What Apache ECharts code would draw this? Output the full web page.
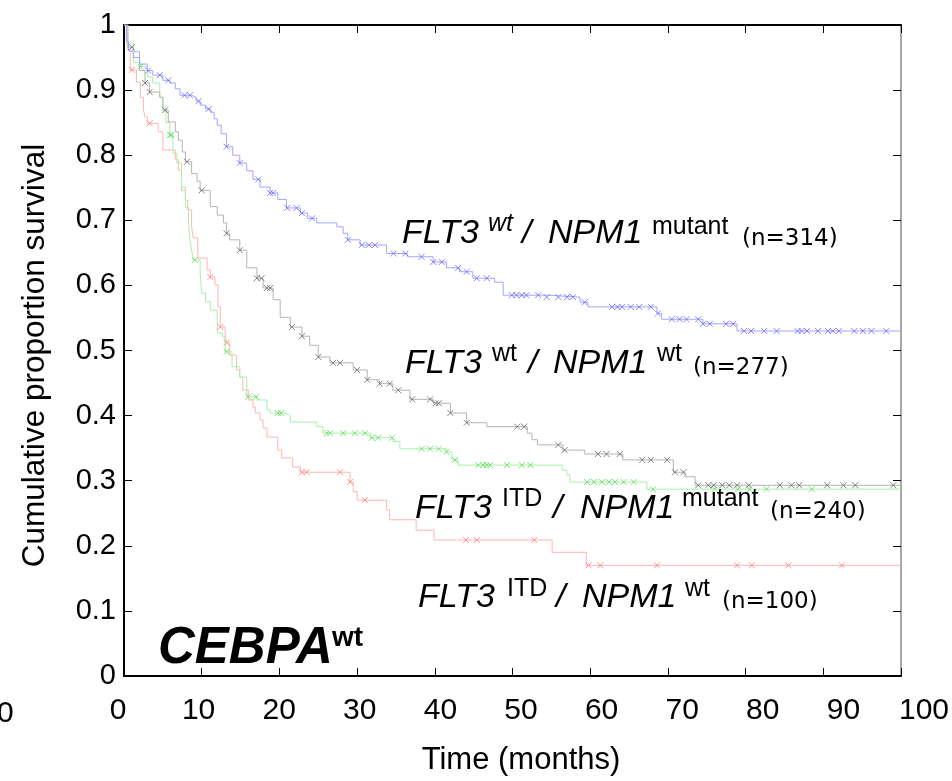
<!DOCTYPE html>
<html><head><meta charset="utf-8">
<script src="https://cdn.jsdelivr.net/npm/echarts@6/dist/echarts.min.js"></script>
<style>html,body{margin:0;padding:0;background:#fff}#c{width:952px;height:781px}</style>
</head><body><div id="c"></div>
<script>
// ---- data (time in months, cumulative proportion surviving after each step) ----
var xTicks = [0,10,20,30,40,50,60,70,80,90,100];
var yTicks = [0,0.1,0.2,0.3,0.4,0.5,0.6,0.7,0.8,0.9,1];

var blueSteps = [[0,1],[0.3,0.975],[0.6,0.96],[1.2,0.95],[2.0,0.94],[3.0,0.93],[3.7,0.923],[5.0,0.915],[5.9,0.911],[6.6,0.902],[7.2,0.892],[8.7,0.889],[9.3,0.883],[9.8,0.877],[10.5,0.871],[11.1,0.866],[11.6,0.856],[12.0,0.846],[12.5,0.833],[13.2,0.813],[14.0,0.80],[14.9,0.788],[15.8,0.776],[16.6,0.763],[17.5,0.751],[18.8,0.742],[19.8,0.732],[20.9,0.719],[22.7,0.711],[23.6,0.703],[24.8,0.696],[27.4,0.690],[28.2,0.680],[28.8,0.670],[30.4,0.662],[33.8,0.649],[36.5,0.644],[39.8,0.636],[41.5,0.627],[43.2,0.621],[44.9,0.611],[47.7,0.605],[48.8,0.585],[54.4,0.582],[58.7,0.574],[59.7,0.567],[68.6,0.557],[69.2,0.548],[74.5,0.541],[78.9,0.530],[100,0.530]];
var blueCens = [3.1,4.6,5.7,7.8,8.5,9.6,10.9,13.2,14.9,17.3,18.8,19.2,21,22.2,22.9,24.2,28.8,30.6,31.5,32.3,34.7,36.2,38.3,39.8,40.9,43,44.1,45.4,46.7,49.9,50.5,51.2,51.8,53.3,54.4,55.9,57,57.8,59.3,62.8,63.5,64.1,65.2,66.3,67.8,68.7,70.5,71.5,72.4,73.9,74.5,75.4,77.5,78.4,79.8,80.7,82.4,84,86.7,87.2,87.9,89.3,90.6,91.2,92,94,95.1,96.2,98.1];

var graySteps = [[0,1],[0.5,0.966],[1.2,0.959],[2.0,0.93],[2.7,0.911],[3.3,0.897],[4.6,0.889],[5.0,0.869],[5.7,0.851],[6.6,0.836],[7.0,0.823],[7.5,0.805],[7.9,0.790],[8.7,0.772],[9.4,0.76],[9.8,0.746],[11.1,0.721],[12.0,0.708],[12.8,0.696],[13.2,0.680],[13.6,0.670],[14.9,0.654],[15.8,0.627],[17.1,0.611],[17.9,0.596],[19.2,0.578],[20.1,0.551],[21.4,0.536],[22.9,0.522],[23.9,0.508],[25.0,0.490],[26.5,0.481],[29.5,0.470],[31.3,0.455],[32.9,0.449],[34.6,0.439],[36.8,0.425],[39.8,0.419],[42.0,0.404],[44.1,0.389],[46.7,0.383],[51.9,0.373],[52.5,0.363],[53.2,0.355],[56.5,0.347],[59.3,0.341],[64.2,0.332],[70.7,0.313],[72.2,0.306],[73.5,0.293],[100,0.293]];
var grayCens = [1,2.7,3.3,5.3,8.1,10,13.2,14.9,17.1,17.7,18.4,18.8,21.6,22.9,25,26.9,27.8,30,31.3,32.9,34.2,35.3,37.1,39.4,40.1,40.5,42,44.1,50.6,51.5,55.9,56.7,61,62.1,63.8,66.7,67.8,69.9,70.9,72,73.9,75.2,75.9,77,77.9,78.9,80.4,84.4,85.9,86.9,90.5,92.6,94.1,99];

var greenSteps = [[0,1],[0.5,0.972],[1.2,0.943],[2.1,0.936],[3.0,0.92],[3.7,0.911],[4.6,0.889],[5.0,0.874],[5.4,0.85],[5.9,0.831],[6.3,0.803],[6.8,0.788],[7.4,0.751],[7.9,0.72],[8.3,0.696],[8.5,0.67],[8.7,0.655],[8.9,0.639],[9.8,0.619],[10.0,0.588],[10.5,0.575],[11.1,0.562],[12.0,0.527],[12.7,0.521],[13.0,0.498],[13.9,0.475],[14.9,0.459],[15.8,0.429],[17.1,0.424],[18.4,0.409],[18.8,0.404],[20.7,0.401],[21.4,0.390],[24.8,0.383],[25.6,0.373],[31.7,0.366],[34.6,0.36],[35.5,0.349],[41.5,0.344],[42.2,0.332],[43.0,0.324],[56.4,0.316],[57.0,0.309],[57.4,0.298],[67.3,0.287],[100,0.287]];
var greenCens = [2.1,5.9,6.1,9.1,13.2,16,17,19.8,20.2,26.1,26.5,28.2,29.7,31,31.9,32.7,34.5,38.3,39.4,40.5,41.5,42.6,45.6,46.2,46.7,47.1,49.3,51.2,52.3,59.6,60.5,61.5,62.4,63.2,64.3,65.6,68.1,76,79,80.5,82.7,88.5];

var redSteps = [[0,1],[0.3,0.982],[0.5,0.962],[0.8,0.931],[1.6,0.912],[2.1,0.889],[2.5,0.87],[2.7,0.859],[3.0,0.849],[4.4,0.836],[5.0,0.808],[6.6,0.793],[7.0,0.777],[7.4,0.746],[7.9,0.731],[8.2,0.716],[8.7,0.69],[8.9,0.673],[9.5,0.642],[10.7,0.624],[11.1,0.613],[11.7,0.601],[12.1,0.567],[12.4,0.536],[13.0,0.527],[13.2,0.512],[13.6,0.493],[14.5,0.470],[14.9,0.459],[15.3,0.439],[16.0,0.424],[16.6,0.413],[16.9,0.404],[17.5,0.393],[17.9,0.381],[18.4,0.367],[19.8,0.347],[20.3,0.335],[21.7,0.321],[22.7,0.313],[29.1,0.298],[29.5,0.283],[30.0,0.270],[33.8,0.255],[34.2,0.240],[37.6,0.224],[39.9,0.209],[55.1,0.19],[59.5,0.17],[100,0.17]];
var redCens = [1,3.3,11.1,12.4,13.2,22.9,23.5,27.8,29.1,31,44,45.4,52.8,59.8,61.3,68.6,78.9,80.8,85.5,92.4];

var groupNames = ['FLT3 wt / NPM1 mutant','FLT3 wt / NPM1 wt','FLT3 ITD / NPM1 mutant','FLT3 ITD / NPM1 wt'];

// ---- helpers ----
function survAt(steps, t){ var s = steps[0][1]; for (var i=0;i<steps.length;i++){ if (steps[i][0] <= t) s = steps[i][1]; } return s; }
function censPts(steps, times){ return times.map(function(t){ return [t, survAt(steps, t)]; }); }

var FONT = '"Liberation Sans", Arial, sans-serif';
var XSYM = 'path://M0,0L10,10M10,0L0,10';

function kmLine(name, steps, col){
  return {name:name, type:'line', step:'end', data:steps, showSymbol:false, symbol:'none',
    lineStyle:{color:col, width:1}, xAxisIndex:0, yAxisIndex:0, z:2, silent:true};
}
function kmCens(name, steps, times, col){
  return {name:name+' censored', type:'scatter', data:censPts(steps, times), symbol:XSYM, symbolSize:6,
    itemStyle:{color:'rgba(0,0,0,0)', borderColor:col, borderWidth:1}, xAxisIndex:0, yAxisIndex:0, z:3, silent:true};
}

// ---- text labels (pieces placed by baseline) ----
function piece(txt, x, baseline, fs, opts){
  opts = opts || {};
  return {type:'text', x:x, y:baseline - 0.35*fs, z:10, silent:true,
    style:{text:txt, x:0, y:0, fill:'#000', font:(opts.italic?'italic ':'')+(opts.bold?'bold ':'')+fs+'px '+(opts.family||FONT),
      textAlign:'left', textVerticalAlign:'middle', verticalAlign:'middle',
      shadowColor:opts.shadow?'rgba(0,0,0,0.4)':null, shadowBlur:opts.shadow?5:0, shadowOffsetX:opts.shadow?3:0, shadowOffsetY:opts.shadow?3:0}};
}
var NF = '"DejaVu Sans", Verdana, sans-serif';
var graphics = [
  // label 1
  piece('FLT3', 402, 245, 34, {italic:true}), piece('wt', 488, 233, 25, {italic:true}), piece('/', 522, 245, 34, {italic:true}),
  piece('NPM1', 548, 245, 34, {italic:true}), piece('mutant', 652, 236, 25), piece('(n=314)', 742, 247, 23, {family:NF}),
  // label 2
  piece('FLT3', 405, 375, 34, {italic:true}), piece('wt', 492, 363, 25), piece('/', 528, 375, 34, {italic:true}),
  piece('NPM1', 553, 375, 34, {italic:true}), piece('wt', 657, 363, 25), piece('(n=277)', 693, 376, 23, {family:NF}),
  // label 3
  piece('FLT3', 415, 520, 34, {italic:true}), piece('ITD', 502, 508, 25), piece('/', 553, 520, 34, {italic:true}),
  piece('NPM1', 580, 520, 34, {italic:true}), piece('mutant', 682, 508, 25), piece('(n=240)', 770, 520, 23, {family:NF}),
  // label 4
  piece('FLT3', 418, 609, 34, {italic:true}), piece('ITD', 507, 598, 25), piece('/', 556, 609, 34, {italic:true}),
  piece('NPM1', 582, 609, 34, {italic:true}), piece('wt', 685, 598, 25), piece('(n=100)', 722, 610, 23, {family:NF}),
  // CEBPA wt
  piece('CEBPA', 158, 667, 51, {italic:true, bold:true, shadow:true}), piece('wt', 332, 648, 28, {bold:true, shadow:true}),
  // stray left tick label
  piece('0', -3, 724, 30)
];

var chart = echarts.init(document.getElementById('c'), null, {renderer:'canvas'});
chart.setOption({
  backgroundColor:'#fff',
  animation:false,
  grid:[{left:124, right:51, top:25, bottom:105, containLabel:false},
        {left:118, right:26, top:25, bottom:98, containLabel:false}],
  xAxis:[
    {type:'value', gridIndex:0, position:'bottom', min:0, max:100, interval:10,
      axisLine:{show:true, onZero:false, lineStyle:{color:'#000', width:2}},
      axisTick:{show:true, inside:true, length:8, lineStyle:{color:'#000', width:1}},
      axisLabel:{show:false}, splitLine:{show:false}},
    {type:'value', gridIndex:0, position:'top', min:0, max:100, interval:10,
      axisLine:{show:true, onZero:false, lineStyle:{color:'#000', width:2}},
      axisTick:{show:true, inside:true, length:8, lineStyle:{color:'#000', width:1}},
      axisLabel:{show:false}, splitLine:{show:false}},
    {type:'value', gridIndex:1, position:'bottom', min:0, max:100, interval:10,
      axisLine:{show:false, onZero:false}, axisTick:{show:false}, splitLine:{show:false},
      axisLabel:{margin:21, fontFamily:FONT, fontSize:30, color:'#000', formatter:function(v){return String(v);}},
      name:'Time (months)', nameLocation:'middle', nameGap:70,
      nameTextStyle:{fontFamily:FONT, fontSize:31, color:'#000'}}
  ],
  yAxis:[
    {type:'value', gridIndex:0, position:'left', min:0, max:1, interval:0.1,
      axisLine:{show:true, onZero:false, lineStyle:{color:'#000', width:2}},
      axisTick:{show:true, inside:true, length:8, lineStyle:{color:'#000', width:1}},
      axisLabel:{margin:8, fontFamily:FONT, fontSize:29, color:'#000', formatter:function(v){return String(Math.round(v*10)/10);}},
      splitLine:{show:false},
      name:'Cumulative proportion survival', nameLocation:'middle', nameGap:73,
      nameTextStyle:{fontFamily:FONT, fontSize:31.5, color:'#000', padding:[0,10,0,0]}},
    {type:'value', gridIndex:0, position:'right', min:0, max:1, interval:0.1,
      axisLine:{show:true, onZero:false, lineStyle:{color:'#a8a8a8', width:2}},
      axisTick:{show:true, inside:true, length:8, lineStyle:{color:'#000', width:1}},
      axisLabel:{show:false}, splitLine:{show:false}},
    {type:'value', gridIndex:1, min:0, max:1, show:false}
  ],
  series:[
    kmLine(groupNames[3], redSteps, '#ffb4b4'),
    kmLine(groupNames[2], greenSteps, '#a8f0a8'),
    kmLine(groupNames[1], graySteps, '#b4b4b4'),
    kmLine(groupNames[0], blueSteps, '#a4a4ff'),
    kmCens(groupNames[3], redSteps, redCens, '#ff7a7a'),
    kmCens(groupNames[2], greenSteps, greenCens, '#5fd85f'),
    kmCens(groupNames[1], graySteps, grayCens, '#666666'),
    kmCens(groupNames[0], blueSteps, blueCens, '#6a6aff')
  ],
  graphic:graphics
});
</script></body></html>
